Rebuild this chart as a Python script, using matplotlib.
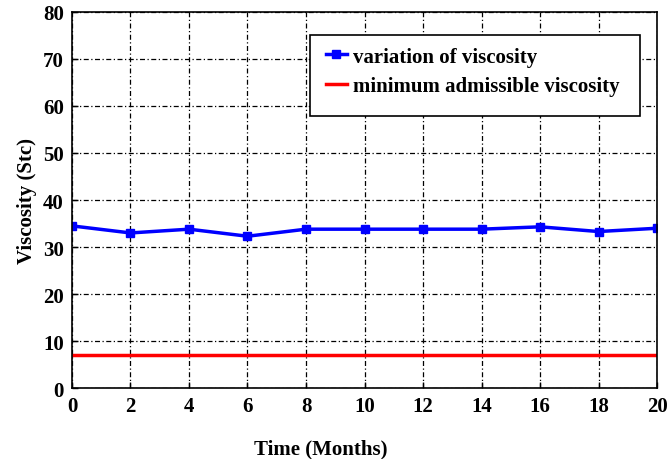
import numpy as np
import matplotlib
matplotlib.use('Agg')
import matplotlib.pyplot as plt
from matplotlib.patches import Rectangle

# data
months = [0, 2, 4, 6, 8, 10, 12, 14, 16, 18, 20]
viscosity = [34.5, 33.0, 33.8, 32.3, 33.8, 33.8, 33.8, 33.8, 34.3, 33.3, 34.0]
min_viscosity = 7.0
xticks = list(range(0, 21, 2))
yticks = list(range(0, 81, 10))

plt.rcParams['font.family'] = ['Liberation Serif', 'DejaVu Serif']
plt.rcParams['font.weight'] = 'bold'

fig = plt.figure(figsize=(6.69, 4.60), dpi=100)
ax = fig.add_axes([0.1076, 0.154, 0.8745, 0.818])

ax.plot(months, viscosity, color='#0000ff', lw=2.5, marker='s', ms=6,
        label='variation of viscosity')
ax.plot([months[0], months[-1]], [min_viscosity, min_viscosity], color='#ff0000',
        lw=2.5, label='minimum admissible viscosity')

ax.set_xlim(0, 20)
ax.set_ylim(0, 80)
ax.set_xticks(xticks)
ax.set_yticks(yticks)
ax.tick_params(direction='in', length=4, labelsize=15, width=1, pad=6)
for lab in ax.get_xticklabels() + ax.get_yticklabels():
    lab.set_fontweight('bold')
ax.grid(True, color='black', linestyle=(0, (4, 2, 1, 2)), lw=0.9)
for s in ax.spines.values():
    s.set_linewidth(1.2)

ax.set_xlabel('Time (Months)', fontsize=15, fontweight='bold', labelpad=20)
ax.xaxis.set_label_coords(0.425, -0.135)
ax.set_ylabel('Viscosity (Stc)', fontsize=15, fontweight='bold', labelpad=4)

# legend box with extra space below, like the original
box = Rectangle((0.407, 0.723), 0.564, 0.216, transform=ax.transAxes,
                facecolor='white', edgecolor='black', lw=1.2, zorder=5)
ax.add_patch(box)
leg = ax.legend(loc='upper left', bbox_to_anchor=(0.42, 0.93), frameon=False,
                fontsize=15, handlelength=1.0, handletextpad=0.3, labelspacing=0.45,
                borderaxespad=0)
leg.set_zorder(6)
for t in leg.get_texts():
    t.set_fontweight('bold')

fig.savefig('out.png', dpi=100)
